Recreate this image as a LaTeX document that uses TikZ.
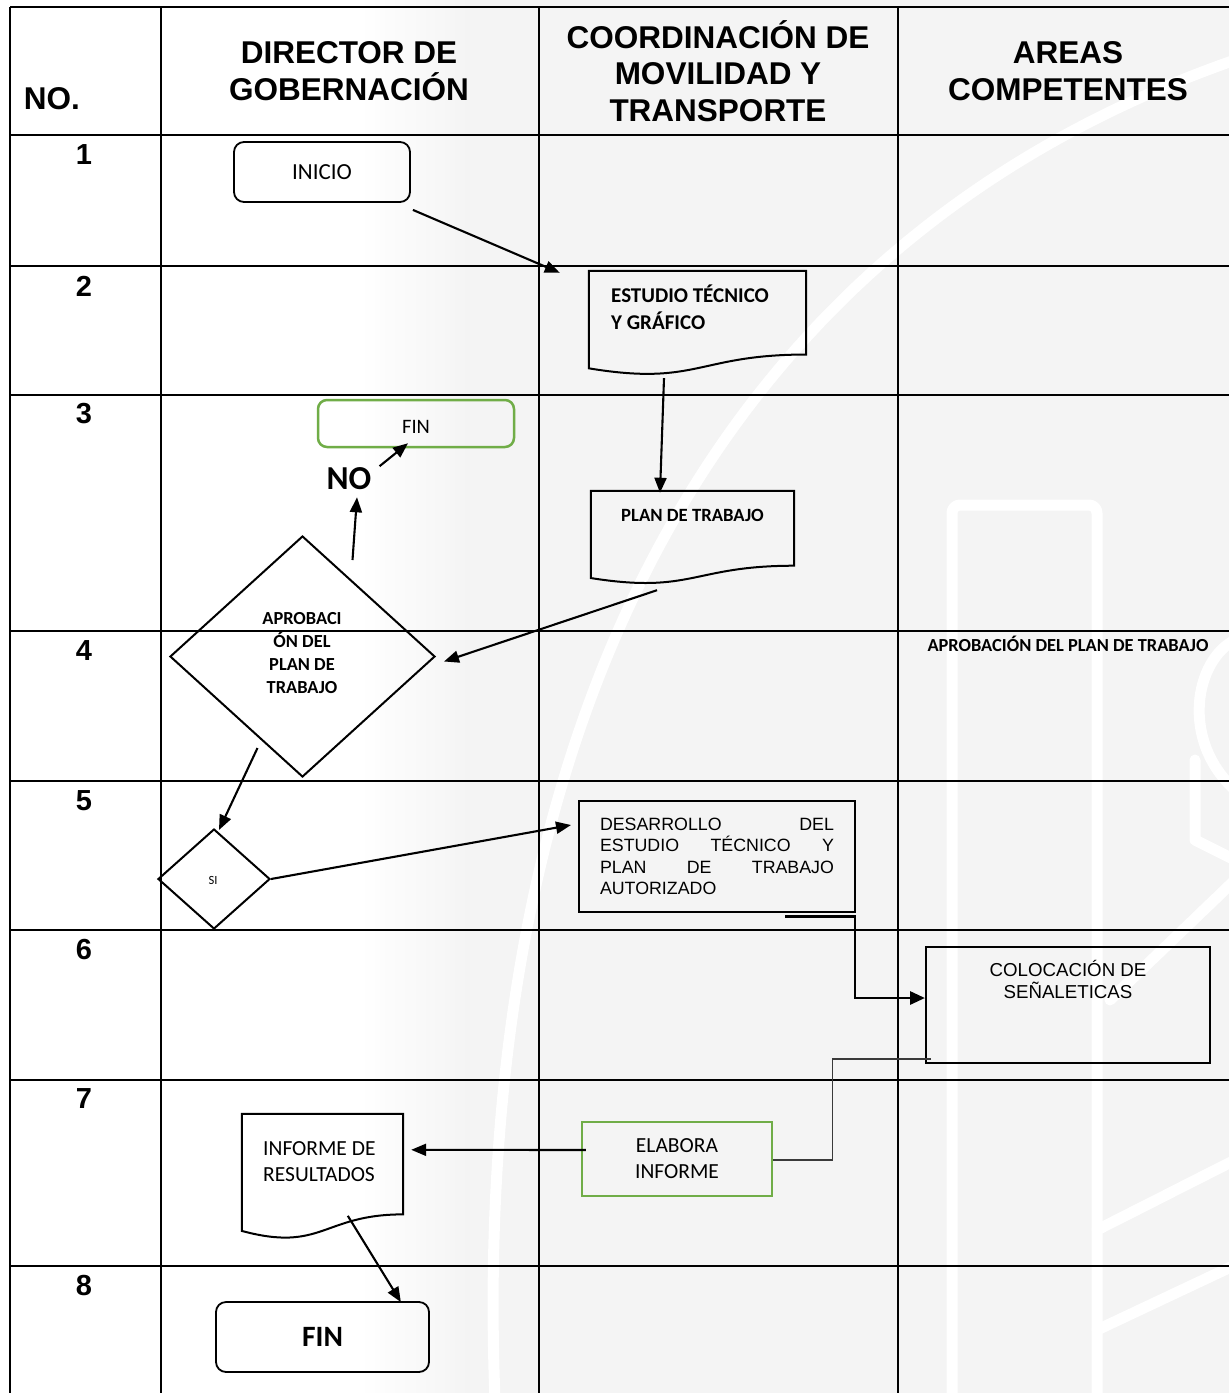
\documentclass[tikz,border=0pt]{standalone}
\usepackage{fontspec}
\setmainfont{Liberation Sans}
\newfontfamily\carl{Carlito}
\usetikzlibrary{arrows.meta,shapes.geometric,calc}

\definecolor{wmgray}{HTML}{F4F4F4}
\definecolor{boxgreen}{HTML}{70AD47}
\definecolor{thinline}{HTML}{3A3A3A}

\tikzset{
  gridline/.style={line width=2.8pt, black},
  hdr/.style={font=\fontsize{31.5}{36.5}\selectfont\bfseries, align=center, inner sep=0pt},
  rownum/.style={font=\fontsize{29}{34}\selectfont\bfseries, inner sep=0pt},
  flow/.style={line width=2.1pt, -{Triangle[length=15pt,width=12pt]}},
  elbow/.style={line width=2.9pt, -{Triangle[length=15pt,width=13pt]}},
  termbox/.style={draw, line width=1.8pt, rounded corners=10pt, inner sep=0pt},
  greenbox/.style={draw=boxgreen, line width=2.5pt, inner sep=0pt},
  plainbox/.style={draw, line width=2pt, inner sep=0pt},
  docbox/.style={draw=none, inner sep=0pt},
  docline/.style={line width=2pt, line join=miter},
  calibri/.style={font=\carl\fontsize{21}{26}\selectfont, inner sep=0pt},
  calibrib/.style={font=\carl\bfseries\fontsize{21}{26.5}\selectfont, inner sep=0pt},
  wmline/.style={white, line width=11pt, line cap=round, line join=round},
}

% wavy-bottom document outline around a node
\newcommand{\docshape}[1]{%
  \draw[docline] (#1.north west) -- (#1.north east)
    -- ($(#1.north east)!0.802!(#1.south east)$)
    .. controls ($(#1.north)!0.802!(#1.south)$) and ($(#1.north)!1.107!(#1.south)$)
    .. ($(#1.north west)!0.934!(#1.south west)$) -- cycle;}

\begin{document}
\begin{tikzpicture}[x=1pt,y=-1pt]
\useasboundingbox (0,0) rectangle (1229,1393);
\fill[white] (0,0) rectangle (1229,1393);

% faint emblem in the background
\shade[left color=white, right color=wmgray] (360,0) rectangle (470,1393);
\fill[wmgray] (470,0) rectangle (1229,1393);
\begin{scope}
  \clip (360,0) rectangle (1229,1393);
  \draw[wmline] (495,1400) .. controls (470,760) and (690,250) .. (1235,60);
  \draw[wmline, rounded corners=8pt] (952,1400) -- (952,505) -- (1097,505) -- (1097,1400);
  \draw[wmline] (1097,1230) -- (1235,1160);
  \draw[wmline] (1097,1330) -- (1235,1265);
  \draw[wmline] (1235,640) .. controls (1195,660) and (1180,740) .. (1235,790);
  \draw[wmline] (1195,760) -- (1195,840) -- (1235,860);
  \draw[wmline] (1110,1000) -- (1235,880);
\end{scope}

% table grid
\foreach \yy in {7,135,266,395,631,781,930,1080,1266}
  \draw[gridline] (10,\yy) -- (1229,\yy);
\foreach \xx in {10,161,539,898}
  \draw[gridline] (\xx,7) -- (\xx,1393);

% column headers
\node[hdr] (hno)   at (52,99)   {NO.};
\node[hdr] (hdir)  at (349,71)  {DIRECTOR DE\\GOBERNACIÓN};
\node[hdr] (hcoor) at (718,71)  {COORDINACIÓN DE\\MOVILIDAD Y\\TRANSPORTE};
\node[hdr] (hareas) at (1068,71) {AREAS\\COMPETENTES};

% step numbers
\node[rownum] (n1) at (84,155)  {1};
\node[rownum] (n2) at (84,286)  {2};
\node[rownum] (n3) at (84,414)  {3};
\node[rownum] (n4) at (84,651)  {4};
\node[rownum] (n5) at (84,801)  {5};
\node[rownum] (n6) at (84,950)  {6};
\node[rownum] (n7) at (84,1099) {7};
\node[rownum] (n8) at (84,1285) {8};

% step 1
\node[termbox, calibri, font=\carl\fontsize{23}{27}\selectfont, minimum width=176pt, minimum height=60pt] (inicio) at (322,172) {INICIO};

% step 2
\node[docbox, minimum width=217pt, minimum height=104pt] (estudio) at (697.5,323) {};
\docshape{estudio}
\node[calibrib, anchor=north west, align=left] (estudiot) at (611,285) {ESTUDIO TÉCNICO\\Y GRÁFICO};

% step 3
\node[docbox, minimum width=203pt, minimum height=93pt] (plan) at (692.5,537.5) {};
\docshape{plan}
\node[calibrib, font=\carl\bfseries\fontsize{18.7}{21}\selectfont] (plant) at (692.5,515) {PLAN DE TRABAJO};

\node[draw=boxgreen, line width=2.5pt, rounded corners=9pt, inner sep=0pt, minimum width=196pt, minimum height=47pt] (fin1) at (416,423.5) {};
\node[calibri, font=\carl\fontsize{20.5}{24}\selectfont] (fin1t) at (416,427) {FIN};

% step 4 decision
\node[diamond, draw, line width=2pt, inner sep=0pt, minimum width=265pt, minimum height=241pt] (aprob) at (302.5,656.5) {};
\node[calibrib, font=\carl\bfseries\fontsize{18.4}{22.7}\selectfont, align=center] (aprobt) at (302,653) {APROBACI\\ÓN DEL\\PLAN DE\\TRABAJO};
\node[font=\carl\bfseries\fontsize{33.5}{37}\selectfont, inner sep=0pt] (no) at (349,479) {NO};
\node[calibrib, font=\carl\bfseries\fontsize{18.4}{22}\selectfont] (areat) at (1068,644) {APROBACIÓN DEL PLAN DE TRABAJO};

% step 5
\node[diamond, draw, line width=2pt, inner sep=0pt, minimum width=112pt, minimum height=100pt] (si) at (214,879) {};
\node[calibri, font=\carl\fontsize{12.5}{14}\selectfont] (sit) at (213,880) {SI};
\node[plainbox, minimum width=276pt, minimum height=111pt, text width=234pt, inner xsep=21pt, align=justify,
      font=\fontsize{17.8}{21.5}\selectfont] (desa) at (717,856.5)
  {DESARROLLO\hfill DEL\\ESTUDIO\hfill TÉCNICO\hfill Y\\PLAN\hfill DE\hfill TRABAJO\\AUTORIZADO\hfill\null};

% step 6
\node[plainbox, minimum width=284pt, minimum height=116pt] (coloc) at (1068,1005) {};
\node[font=\fontsize{18.7}{22}\selectfont, align=center, inner sep=0pt] (coloct) at (1068,979) {COLOCACIÓN DE\\SEÑALETICAS};

% step 7
\node[greenbox, calibri, font=\carl\fontsize{21.5}{26}\selectfont, minimum width=190pt, minimum height=74pt, align=center] (elab) at (677,1159) {ELABORA\\INFORME};
\node[docbox, minimum width=161pt, minimum height=125pt] (inf) at (322.5,1176.5) {};
\docshape{inf}
\node[calibri, font=\carl\fontsize{21.5}{26}\selectfont, anchor=north west, align=left] (inft) at (263,1141) {INFORME DE\\RESULTADOS};

% step 8
\node[termbox, minimum width=213pt, minimum height=70pt, font=\carl\bfseries\fontsize{29.5}{34}\selectfont] (fin2) at (322.5,1337) {FIN};

% connector end points
\coordinate (c1a) at ($(inicio.south east)+(2,7)$);
\coordinate (c1b) at ($(estudio.north west)+(-29,2)$);
\coordinate (c2a) at ($(estudio.south)+(-33.5,3)$);
\coordinate (c2b) at ($(plan.north)+(-32.5,2)$);
\coordinate (c3a) at ($(plan.south)+(-35.5,6)$);
\coordinate (c3b) at ($(aprob.east)+(8,5)$);
\coordinate (c4a) at ($(aprob.north)+(50,25)$);
\coordinate (c4b) at ($(no.south)+(8,7)$);
\coordinate (c5a) at ($(no.north east)+(8,-1.5)$);
\coordinate (c5b) at ($(fin1.south)+(-8,-5)$);
\coordinate (c6a) at ($(aprob.south)+(-45,-30)$);
\coordinate (c6b) at ($(si.north)+(5,2)$);
\coordinate (c7b) at ($(desa.west)+(-7,-31.5)$);
\coordinate (c8a) at ($(desa.south)+(68,3.5)$);
\coordinate (c8k) at ($(coloc.west)+(-70,-7)$);
\coordinate (c8b) at ($(coloc.west)+(0,-7)$);
\coordinate (c9a) at ($(coloc.south west)+(6,-5)$);
\coordinate (c9k) at ($(elab.east)+(59,1)$);
\coordinate (c10a) at ($(elab.west)+(5,-9)$);
\coordinate (c10b) at ($(inf.north east)+(8,36)$);
\coordinate (c11a) at ($(inf.north west)+(106,102)$);
\coordinate (c11b) at ($(fin2.north east)+(-29,1)$);

% connectors
\draw[flow] (c1a) -- (c1b);
\draw[flow] (c2a) -- (c2b);
\draw[flow] (c3a) -- (c3b);
\draw[flow] (c4a) -- (c4b);
\draw[flow] (c5a) -- (c5b);
\draw[flow] (c6a) -- (c6b);
\draw[flow] (si.east) -- (c7b);
\draw[elbow] (c8a) -| (c8k) -- (c8b);
\draw[thinline, line width=1.2pt] (c9a) -| (c9k) -- ($(elab.east)+(0,1)$);
\draw[flow] (c10a) -- (c10b);
\draw[flow] (c11a) -- (c11b);
\end{tikzpicture}
\end{document}
